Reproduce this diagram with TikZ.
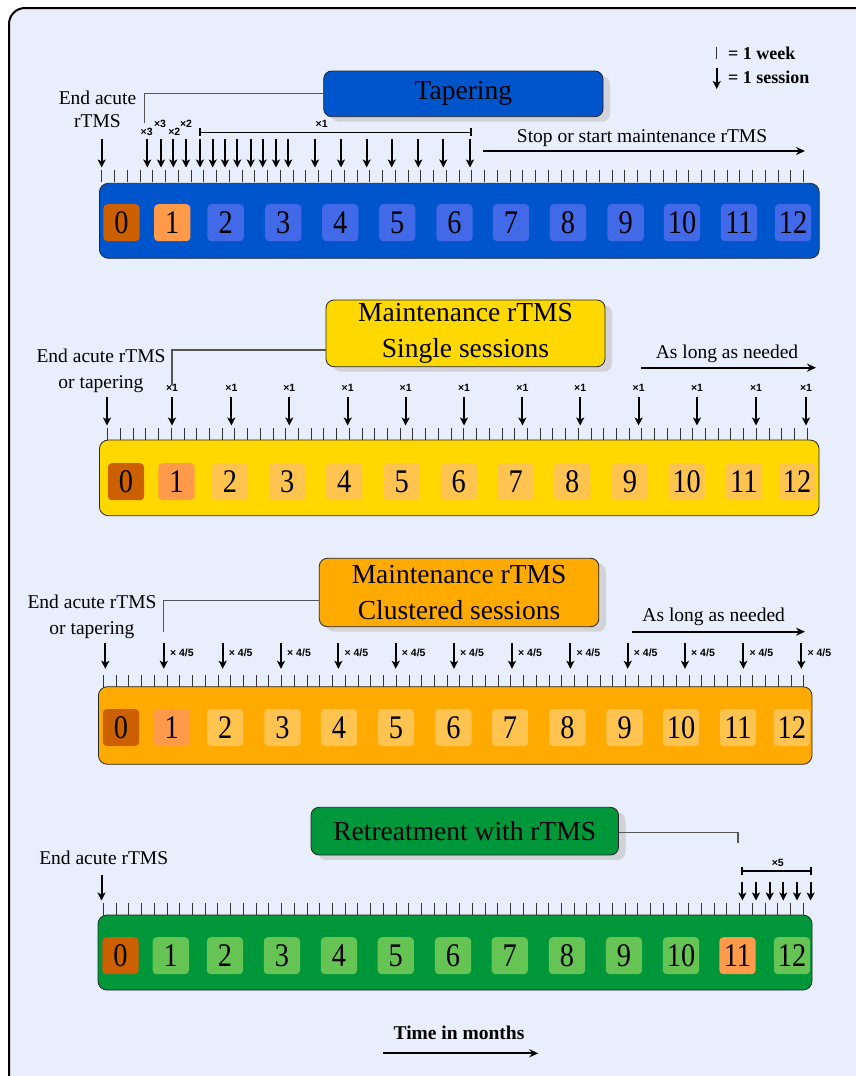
\documentclass[tikz,border=0pt]{standalone}
\usepackage{fontspec}
\setmainfont{Liberation Serif}
\newfontfamily\numfont[FakeStretch=0.86]{Liberation Serif}
\newfontfamily\smallsans{Liberation Sans}
\usetikzlibrary{arrows.meta,shadows}
\definecolor{bgblue}{HTML}{E8EEFC}
\definecolor{tapblue}{HTML}{0055CC}
\definecolor{tapbox}{HTML}{4169E8}
\definecolor{darkor}{HTML}{CC6000}
\definecolor{lightor}{HTML}{FF9A4A}
\definecolor{goldbar}{HTML}{FFD800}
\definecolor{paleor}{HTML}{FFC44F}
\definecolor{orbar}{HTML}{FFAA00}
\definecolor{grbar}{HTML}{00963A}
\definecolor{grbox}{HTML}{66C454}
\definecolor{shadowgray}{HTML}{D2D3D8}
\definecolor{tickgray}{HTML}{333333}
\definecolor{linkgray}{HTML}{555555}
\tikzset{
  bar/.style={rounded corners=9pt, draw=black!85, line width=0.8pt, inner sep=0pt},
  numbox/.style={rounded corners=4pt, minimum width=36.3pt, minimum height=37pt, inner sep=0pt,
    font=\numfont\fontsize{33}{33}\selectfont},
  titlebox/.style={rounded corners=8pt, draw=black!85, line width=0.8pt, inner sep=0pt, align=center,
    font=\fontsize{27.5}{36}\selectfont,
    drop shadow={shadow xshift=7pt, shadow yshift=-5pt, fill=shadowgray, opacity=1}},
  lbl/.style={font=\fontsize{19.5}{26}\selectfont, inner sep=0pt, align=center},
  mult/.style={font=\smallsans\bfseries\fontsize{10.5}{11}\selectfont, inner sep=0pt},
  sess/.style={-{Stealth[length=8pt,width=8pt,inset=2pt]}, line width=2pt},
  tickline/.style={draw=tickgray, line width=0.8pt},
  link/.style={draw=linkgray, line width=1.1pt},
  longarrow/.style={-{Stealth[length=9pt,width=8pt]}, line width=2pt},
  brack/.style={{Bar[width=8pt]}-{Bar[width=8pt]}, line width=1.5pt},
  legendtxt/.style={font=\bfseries\fontsize{18}{18}\selectfont, inner sep=0pt, anchor=west}
}
\begin{document}
\begin{tikzpicture}[x=1pt,y=-1pt]
\useasboundingbox (0,0) rectangle (856,1076);
\clip (0,0) rectangle (856,1076);
\draw[line width=2pt, fill=bgblue, rounded corners=16pt] (9,8) rectangle (885,1092);

% legend
\draw[tickline, line width=1pt] (716.7,47) -- (716.7,59);
\node[legendtxt] (legw) at (728,53) {= 1 week};
\draw[sess] (716.7,68) -- (716.7,89);
\node[legendtxt] (legs) at (728,77) {= 1 session};

% ===== Panel 1: Tapering =====
\node[titlebox, fill=tapblue, minimum width=279.3pt, minimum height=45.7pt] (tap) at (463.35,93.85) {Tapering};
\coordinate (c1) at (144.6,123);
\draw[link] (tap.west) -| (c1);
\node[lbl] (ea1) at (97.5,97.7) {End acute};
\node[lbl] (ea1b) at (97.5,121.5) {rTMS};
\foreach \x in {101.7,147.3,161,173.3,186,200,212.7,225,237.3,250.7,262.7,276,288.3,315,341,366.7,391.7,418.3,443.3,470}
  \draw[sess] (\x,139) -- (\x,167.5);
\node[mult] (m1a) at (146.7,131.7) {×3};
\node[mult] (m1b) at (160,124) {×3};
\node[mult] (m1c) at (174.3,131.7) {×2};
\node[mult] (m1d) at (186,124) {×2};
\node[mult] (m1e) at (321.7,124) {×1};
\coordinate (b1l) at (199.3,132.3);
\coordinate (b1r) at (471.7,132.3);
\draw[brack] (b1l) -- (b1r);
\node[lbl] (stop) at (642,138) {Stop or start maintenance rTMS};
\coordinate (s1a) at (482.7,151);
\coordinate (s1b) at (805,151);
\draw[longarrow, line width=1.6pt] (s1a) -- (s1b);
\foreach \k in {0,...,55}
  \draw[tickline] ({101.7+\k*12.76},170) -- ++(0,12);
\node[bar, fill=tapblue, minimum width=719.8pt, minimum height=75pt] (bar1) at (459.3,220.8) {};
\foreach \n/\x/\c in {0/121.5/darkor,1/172.3/lightor,2/225.6/tapbox,3/283.3/tapbox,4/340.3/tapbox,5/397.2/tapbox,6/454.5/tapbox,7/511/tapbox,8/568/tapbox,9/625.6/tapbox,10/682/tapbox,11/739/tapbox,12/793/tapbox}
  \node[numbox, fill=\c] (p1n\n) at (\x,222.7) {\n};

% ===== Panel 2: Maintenance single =====
\node[titlebox, fill=goldbar, minimum width=279pt, minimum height=66.7pt] (ms) at (465.5,333.35) {Maintenance rTMS\\Single sessions};
\coordinate (c2) at (172,385);
\draw[link] ([yshift=-16.6pt]ms.west) -| (c2);
\node[lbl] (ea2) at (101,371) {End acute rTMS\\or tapering};
\node[lbl] (long2) at (727,354) {As long as needed};
\coordinate (l2a) at (641,367.7);
\coordinate (l2b) at (816,367.7);
\draw[longarrow] (l2a) -- (l2b);
\draw[sess] (107,396.7) -- (107,425.5);
\foreach \x in {172,231.4,289.3,347.7,405.6,464,522.4,580.2,638.6,697,756,806}{
  \node[mult] at (\x,388) {×1};
  \draw[sess] (\x,396.7) -- (\x,425.5);
}
\foreach \k in {0,...,55}
  \draw[tickline] ({107.6+\k*12.72},428) -- ++(0,12);
\node[bar, fill=goldbar, minimum width=719.6pt, minimum height=75.7pt] (bar2) at (459.2,477.85) {};
\foreach \n/\x/\c in {0/126/darkor,1/176.5/lightor,2/230/paleor,3/287.2/paleor,4/344.3/paleor,5/401.6/paleor,6/458.8/paleor,7/515.6/paleor,8/572.2/paleor,9/629.9/paleor,10/686.7/paleor,11/743.9/paleor,12/797/paleor}
  \node[numbox, fill=\c] (p2n\n) at (\x,481.7) {\n};

% ===== Panel 3: Maintenance clustered =====
\node[titlebox, fill=orbar, minimum width=279.5pt, minimum height=68.4pt] (mc) at (459.05,592.5) {Maintenance rTMS\\Clustered sessions};
\coordinate (c3) at (163.8,631.7);
\draw[link] ([yshift=-8.2pt]mc.west) -| (c3);
\node[lbl] (ea3) at (92,617) {End acute rTMS\\or tapering};
\node[lbl] (long3) at (713.7,616.7) {As long as needed};
\coordinate (l3a) at (632,631.7);
\coordinate (l3b) at (805,631.7);
\draw[longarrow] (l3a) -- (l3b);
\draw[sess] (105.3,642.7) -- (105.3,668.8);
\foreach \x in {163.8,222.7,281,338.4,395.7,454,512,570.4,627.7,685,743.4,801.3}{
  \node[mult, anchor=west] at (\x+6,652.3) {× 4/5};
  \draw[sess] (\x,642.7) -- (\x,668.8);
}
\foreach \k in {0,...,55}
  \draw[tickline] ({103.3+\k*12.735},675) -- ++(0,12);
\node[bar, fill=orbar, minimum width=713.6pt, minimum height=77.6pt] (bar3) at (455.2,725.5) {};
\foreach \n/\x/\c in {0/121/darkor,1/171.6/lightor,2/225.2/paleor,3/282.4/paleor,4/339/paleor,5/396/paleor,6/453.5/paleor,7/510/paleor,8/567.4/paleor,9/624.6/paleor,10/681/paleor,11/738/paleor,12/791.8/paleor}
  \node[numbox, fill=\c] (p3n\n) at (\x,727.5) {\n};

% ===== Panel 4: Retreatment =====
\node[titlebox, fill=grbar, minimum width=307.5pt, minimum height=47.7pt] (rt) at (464.75,831.15) {Retreatment with rTMS};
\coordinate (c4) at (738,843.3);
\draw[link] ([yshift=-1.2pt]rt.east) -| (c4);
\node[lbl] (ea4) at (103.7,857.7) {End acute rTMS};
\coordinate (b4l) at (741.3,871);
\coordinate (b4r) at (811.7,871);
\draw[brack] (b4l) -- (b4r);
\node[mult] (m4) at (777.8,862.5) {×5};
\draw[sess] (101.5,875) -- (101.5,900.5);
\foreach \x in {742.4,756,769.7,783.3,797,810.6}
  \draw[sess] (\x,882) -- (\x,900.5);
\foreach \k in {0,...,55}
  \draw[tickline] ({103.3+\k*12.725},903) -- ++(0,12);
\node[bar, fill=grbar, minimum width=714pt, minimum height=75pt] (bar4) at (455,952.5) {};
\foreach \n/\x/\c in {0/120.5/darkor,1/170.8/grbox,2/225/grbox,3/281.9/grbox,4/339/grbox,5/395.8/grbox,6/453/grbox,7/509.7/grbox,8/567/grbox,9/624/grbox,10/681/grbox,11/737.5/lightor,12/792/grbox}
  \node[numbox, fill=\c] (p4n\n) at (\x,955.7) {\n};

% time axis
\node[font=\bfseries\fontsize{19.5}{20}\selectfont, inner sep=0pt] (time) at (459,1033) {Time in months};
\coordinate (t1) at (383.3,1053.3);
\coordinate (t2) at (538.3,1053.3);
\draw[longarrow] (t1) -- (t2);
\end{tikzpicture}
\end{document}
